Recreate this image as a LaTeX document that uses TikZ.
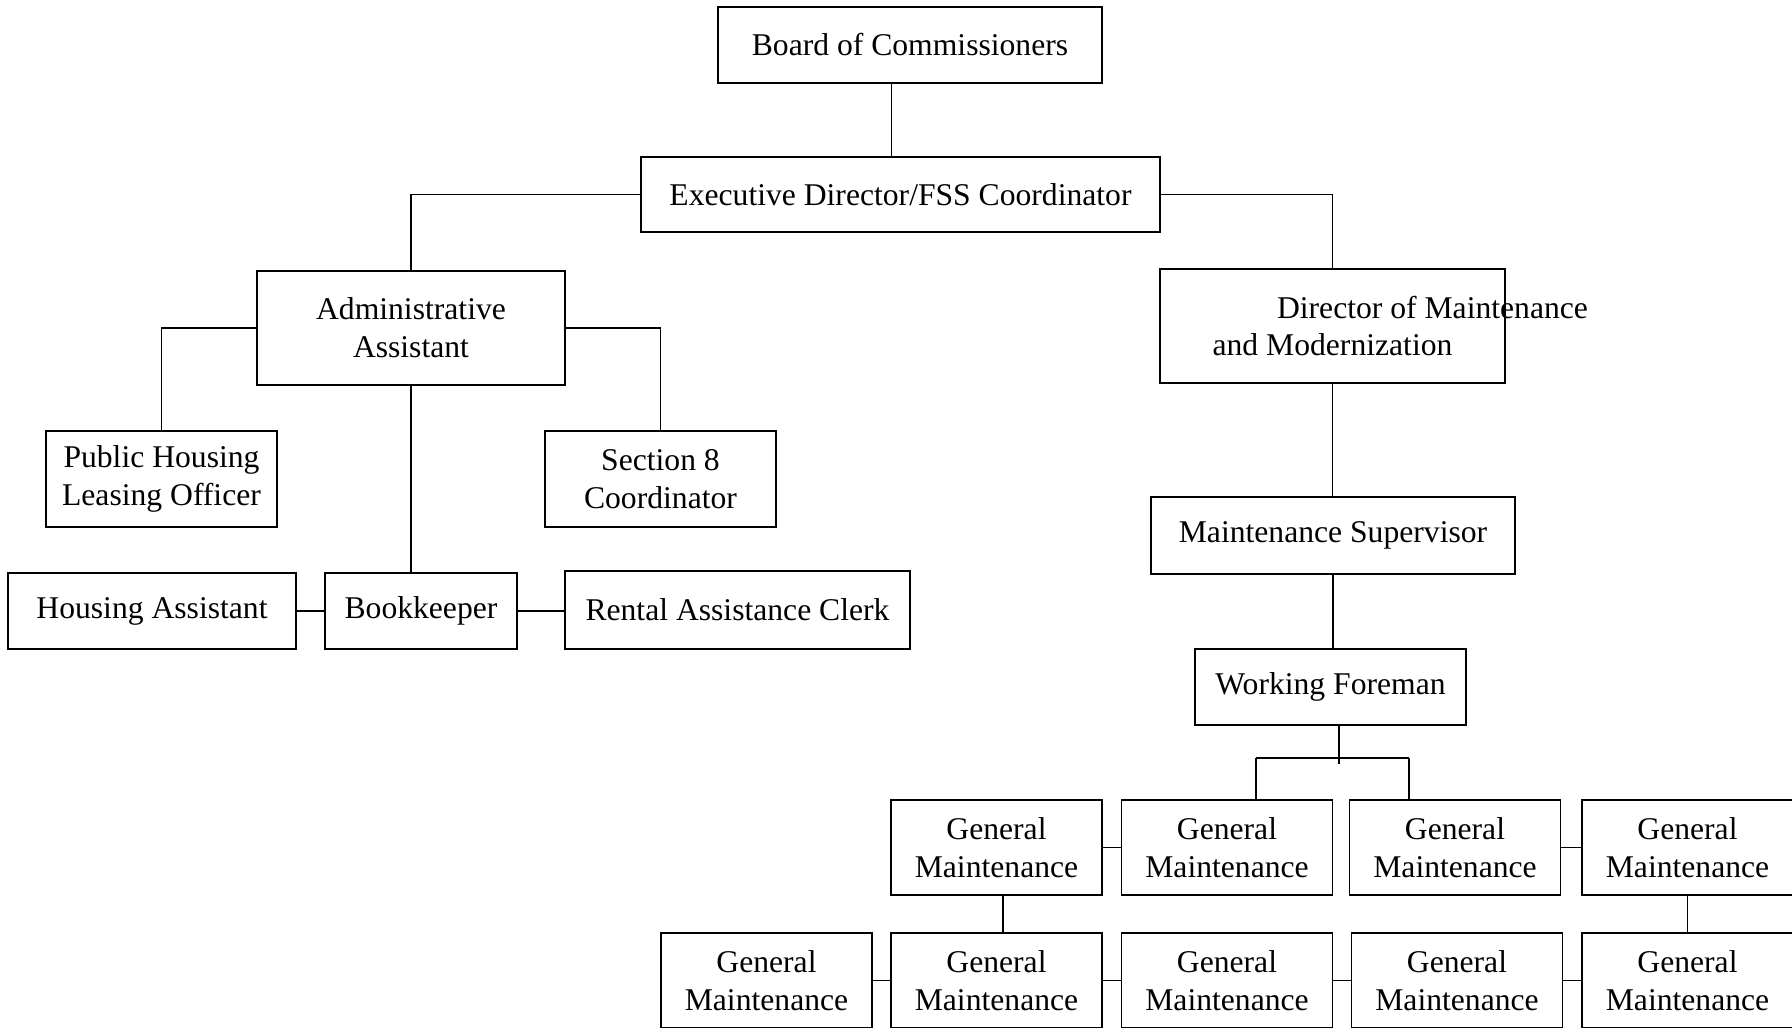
\documentclass[tikz,border=0pt]{standalone}
\usepackage{fontspec}
\setmainfont{Liberation Serif}
\usetikzlibrary{calc}

\begin{document}
\begin{tikzpicture}[
		office/.style={draw, line width=1pt, align=center, inner sep=0pt,
			font=\fontsize{18}{21.5}\selectfont},
		link/.style={line width=1pt}]
			\def\gw{4.22};
			\def\gh{1.9};
			
			\useasboundingbox (0,0) rectangle (35.84,-20.54);
			
			\node[office, minimum width=7.68cm, minimum height=1.52cm] (board) at (18.2,-0.9) {Board of Commissioners};
			\node[office, minimum width=10.38cm, minimum height=1.5cm] (exec) at (18.01,-3.89) {Executive Director/FSS Coordinator};
			
			\node[office, minimum width=6.16cm, minimum height=2.28cm] (admin) at (8.22,-6.56) {Administrative\\Assistant};
			\node[office, minimum width=6.9cm, minimum height=2.28cm] (dir) at (26.65,-6.52)
				{\makebox[0pt]{\hspace{4cm}Director of Maintenance}\\and Modernization};
			
			\node[office, minimum width=4.62cm, minimum height=1.92cm] (lease) at (3.23,-9.58) {Public Housing\\Leasing Officer};
			\node[office, minimum width=4.62cm, minimum height=1.92cm] (sec) at (13.21,-9.58) {Section 8\\Coordinator};
			
			\node[office, minimum width=5.76cm, minimum height=1.52cm] (house) at (3.04,-12.22) {Housing Assistant};
			\node[office, minimum width=3.84cm, minimum height=1.52cm] (book) at (8.42,-12.22) {Bookkeeper};
			\node[office, minimum width=6.9cm, minimum height=1.56cm] (rent) at (14.75,-12.2) {Rental Assistance Clerk};
			
			\node[office, minimum width=7.28cm, minimum height=1.54cm] (super) at (26.66,-10.71) {Maintenance Supervisor};
			\node[office, minimum width=5.42cm, minimum height=1.52cm] (fore) at (26.61,-13.74) {Working Foreman};
			
			% general maintenance, two rows
			\foreach \x/\n in {19.93/1, 24.54/2, 29.1/3, 33.75/4}
				\node[office, minimum width=\gw cm, minimum height=\gh cm] (gm\n) at (\x,-16.95) {General\\Maintenance};
			\foreach \x/\n in {15.33/1, 19.93/2, 24.54/3, 29.14/4, 33.75/5}
				\node[office, minimum width=\gw cm, minimum height=\gh cm] (gn\n) at (\x,-19.61) {General\\Maintenance};
			
			\coordinate (top) at ($(board.south)+(-0.37,0)$);
			\draw[link] (top) -- (top |- exec.north);
			\draw[link] (exec.west) -| (admin.north);
			\draw[link] (exec.east) -| (dir.north);
			
			\draw[link] (admin.west) -| (lease.north);
			\draw[link] (admin.east) -| (sec.north);
			\draw[link] (admin.south) -- (admin.south |- book.north);
			\draw[link] (house) -- (book);
			\draw[link] (book.east) -- (book.east -| rent.west);
			
			\draw[link] (dir.south) -- (dir.south |- super.north);
			\draw[link] (super.south) -- (super.south |- fore.north);
			
			\coordinate (barl) at (25.12,-15.16);
			\coordinate (barr) at (28.18,-15.16);
			\draw[link] ($(fore.south)+(0.17,0)$) -- ++(0,-0.76);
			\draw[link] (barl) -- (barr);
			\draw[link] (barl) -- (barl |- gm2.north);
			\draw[link] (barr) -- (barr |- gm3.north);
			
			\draw[link] (gm1) -- (gm2);
			\draw[link] (gm3) -- (gm4);
			\draw[link] ($(gm1.south)+(0.13,0)$) -- ($(gn2.north)+(0.13,0)$);
			\draw[link] (gm4.south) -- (gn5.north);
			\foreach \a/\b in {1/2, 2/3, 3/4, 4/5}
				\draw[link] (gn\a) -- (gn\b);
		\end{tikzpicture}
\end{document}
